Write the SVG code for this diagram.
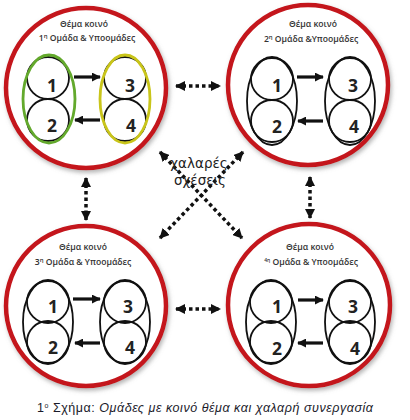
<svg xmlns="http://www.w3.org/2000/svg" width="410" height="420" viewBox="0 0 410 420">
<defs>
  <filter id="sh" x="-20%" y="-20%" width="140%" height="140%">
    <feDropShadow dx="1.5" dy="2.5" stdDeviation="2" flood-color="#777" flood-opacity="0.55"/>
  </filter>
  <marker id="ah" viewBox="0 0 10 10" refX="9" refY="5" markerWidth="10" markerHeight="10" markerUnits="userSpaceOnUse" orient="auto-start-reverse">
    <path d="M0,0 L10,5 L0,10 z" fill="#111"/>
  </marker>
  <marker id="ai" viewBox="0 0 10 10" refX="9" refY="5" markerWidth="9" markerHeight="9" markerUnits="userSpaceOnUse" orient="auto">
    <path d="M0,0 L10,5 L0,10 z" fill="#111"/>
  </marker>
</defs>
<style>
  .ring{fill:#fff;stroke:#c4161c;stroke-width:4.5;filter:url(#sh)}
  .ell{fill:none;stroke:#111;stroke-width:1.8}
  .eg{fill:none;stroke:#63a92c;stroke-width:2.8}
  .ey{fill:none;stroke:#c9c51a;stroke-width:2.8}
  .sc{fill:none;stroke:#111;stroke-width:1.8}
  .num{font-family:"Open Sans","Liberation Sans",sans-serif;font-weight:700;font-size:17.5px;fill:#222;text-anchor:middle}
  .t{font-family:"Open Sans","Liberation Sans",sans-serif;font-weight:600;font-size:8.6px;fill:#333;text-anchor:middle}
  .ia{stroke:#111;stroke-width:3.2;fill:none;marker-end:url(#ai)}
  .dc{stroke:#111;stroke-width:3.5;stroke-dasharray:3.5 3;fill:none;marker-start:url(#ah);marker-end:url(#ah)}
  .lbl{font-family:"DejaVu Sans","Noto Sans",sans-serif;font-size:13.5px;fill:#222;text-anchor:middle}
  .cap{font-family:"Liberation Sans",Arial,sans-serif;font-size:12.5px;fill:#1a1a2a}
</style>

<g id="connectors">
  <line class="dc" x1="176" y1="86" x2="220" y2="86"/>
  <line class="dc" x1="176" y1="309" x2="220" y2="309"/>
  <line class="dc" x1="86" y1="178" x2="86" y2="220"/>
  <line class="dc" x1="310" y1="177" x2="310" y2="218"/>
  <line class="dc" x1="160" y1="152" x2="242" y2="238"/>
  <line class="dc" x1="243" y1="152" x2="160" y2="238"/>
</g>

<g id="node1">
  <circle class="ring" cx="86" cy="88" r="80"/>
  <text class="t" x="84" y="27">Θέμα κοινό</text>
  <text class="t" x="87" y="41">1<tspan font-size="6" dy="-3">η</tspan><tspan dy="3"> Ομάδα &amp; Υποομάδες</tspan></text>
  <circle class="sc" cx="48" cy="78" r="21"/>
  <circle class="sc" cx="48" cy="120" r="21"/>
  <ellipse class="eg" cx="49" cy="99" rx="26" ry="44"/>
  <circle class="sc" cx="125" cy="78" r="21"/>
  <circle class="sc" cx="125" cy="120" r="21"/>
  <ellipse class="ey" cx="125" cy="99" rx="25" ry="44"/>
  <text class="num" x="52" y="92">1</text>
  <text class="num" x="52" y="132">2</text>
  <text class="num" x="130" y="92">3</text>
  <text class="num" x="131" y="132">4</text>
  <line class="ia" x1="74" y1="77" x2="100" y2="77"/>
  <line class="ia" x1="100" y1="120" x2="75" y2="120"/>
</g>

<g id="node2">
  <circle class="ring" cx="308" cy="85" r="80"/>
  <text class="t" x="313" y="27">Θέμα κοινό</text>
  <text class="t" x="311" y="42">2<tspan font-size="6" dy="-3">η</tspan><tspan dy="3"> Ομάδα &amp;Υποομάδες</tspan></text>
  <ellipse class="ell" cx="272" cy="101" rx="25" ry="44"/>
  <circle class="sc" cx="272" cy="79" r="21"/>
  <circle class="sc" cx="272" cy="121" r="21"/>
  <ellipse class="ell" cx="350" cy="101" rx="25" ry="44"/>
  <circle class="sc" cx="350" cy="79" r="21"/>
  <circle class="sc" cx="350" cy="121" r="21"/>
  <text class="num" x="277" y="92">1</text>
  <text class="num" x="277" y="133">2</text>
  <text class="num" x="353" y="92">3</text>
  <text class="num" x="354" y="133">4</text>
  <line class="ia" x1="297" y1="77" x2="323" y2="77"/>
  <line class="ia" x1="323" y1="121" x2="298" y2="121"/>
</g>

<g id="node3">
  <circle class="ring" cx="86" cy="306" r="80"/>
  <text class="t" x="83" y="250">Θέμα κοινό</text>
  <text class="t" x="83" y="265">3<tspan font-size="6" dy="-3">η</tspan><tspan dy="3"> Ομάδα &amp;  Υποομάδες</tspan></text>
  <ellipse class="ell" cx="48" cy="322" rx="25" ry="42"/>
  <circle class="sc" cx="48" cy="302" r="21"/>
  <circle class="sc" cx="48" cy="342" r="21"/>
  <ellipse class="ell" cx="125" cy="322" rx="25" ry="42"/>
  <circle class="sc" cx="125" cy="302" r="21"/>
  <circle class="sc" cx="125" cy="342" r="21"/>
  <text class="num" x="53" y="313">1</text>
  <text class="num" x="53" y="354">2</text>
  <text class="num" x="128" y="313">3</text>
  <text class="num" x="130" y="354">4</text>
  <line class="ia" x1="73" y1="299" x2="100" y2="299"/>
  <line class="ia" x1="100" y1="343" x2="75" y2="343"/>
</g>

<g id="node4">
  <circle class="ring" cx="309" cy="305" r="81"/>
  <text class="t" x="310" y="250">Θέμα κοινό</text>
  <text class="t" x="311" y="265"><tspan font-size="5" dy="-3">4η</tspan><tspan dy="3"> Ομάδα &amp; Υποομάδες</tspan></text>
  <ellipse class="ell" cx="271" cy="322" rx="25" ry="42"/>
  <circle class="sc" cx="271" cy="302" r="21"/>
  <circle class="sc" cx="271" cy="342" r="21"/>
  <ellipse class="ell" cx="350" cy="322" rx="25" ry="42"/>
  <circle class="sc" cx="350" cy="302" r="21"/>
  <circle class="sc" cx="350" cy="342" r="21"/>
  <text class="num" x="277" y="313">1</text>
  <text class="num" x="277" y="355">2</text>
  <text class="num" x="353" y="313">3</text>
  <text class="num" x="355" y="355">4</text>
  <line class="ia" x1="298" y1="300" x2="323" y2="300"/>
  <line class="ia" x1="323" y1="343" x2="298" y2="343"/>
</g>

<text class="lbl" x="199" y="168"><tspan x="199">χαλαρές</tspan><tspan x="200" dy="16.5">σχέσεις</tspan></text>

<text class="cap" x="37" y="412" textLength="336" lengthAdjust="spacing">1<tspan font-size="7" dy="-4">ο</tspan><tspan dy="4"> Σχήμα: </tspan><tspan font-style="italic">Ομάδες με κοινό θέμα και χαλαρή συνεργασία</tspan></text>
</svg>
